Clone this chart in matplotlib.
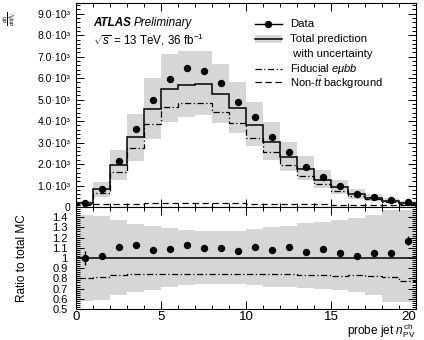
import numpy as np
import matplotlib.pyplot as plt
from matplotlib.lines import Line2D
from matplotlib.patches import Rectangle
from matplotlib.ticker import MultipleLocator, FuncFormatter

plt.rcParams["font.family"] = ["Liberation Sans", "DejaVu Sans"]
plt.rcParams["mathtext.fontset"] = "custom"
plt.rcParams["mathtext.rm"] = "Liberation Sans"
plt.rcParams["mathtext.it"] = "Liberation Sans:italic"

W, H = 424, 340

# bins of probe jet n_PV^ch
edges = np.arange(0, 21)
centers = edges[:-1] + 0.5

data = [205, 840, 2140, 3650, 4960, 5980, 6480, 6330, 5790, 4900,
        4200, 3260, 2550, 1880, 1380, 960, 610, 450, 320, 235]
total = [200, 820, 1940, 3250, 4560, 5500, 5700, 5730, 5250, 4600,
         3820, 3040, 2320, 1760, 1260, 910, 590, 425, 300, 200]
fiducial = [160, 670, 1620, 2730, 3850, 4650, 4820, 4840, 4440, 3890,
            3230, 2550, 1950, 1460, 1050, 750, 490, 350, 245, 155]
non_tt = [110, 140, 150, 160, 170, 175, 180, 180, 175, 170,
          160, 150, 140, 130, 120, 110, 100, 95, 90, 85]

ratio = [1.00, 1.02, 1.11, 1.13, 1.08, 1.09, 1.13, 1.10, 1.10, 1.07,
         1.11, 1.08, 1.11, 1.06, 1.09, 1.05, 1.02, 1.05, 1.05, 1.17]
ratio_err = [0.07, 0.03, 0.01, 0.01, 0.01, 0.01, 0.01, 0.01, 0.01, 0.01,
             0.01, 0.01, 0.01, 0.01, 0.01, 0.015, 0.02, 0.02, 0.025, 0.045]

band_up = [1.42, 1.41, 1.375, 1.335, 1.315, 1.295, 1.275, 1.265, 1.265, 1.265,
           1.28, 1.30, 1.31, 1.34, 1.35, 1.37, 1.39, 1.42, 1.47, 1.47]
band_down = [0.58, 0.59, 0.64, 0.665, 0.69, 0.72, 0.735, 0.745, 0.745, 0.745,
             0.74, 0.72, 0.715, 0.705, 0.70, 0.69, 0.67, 0.64, 0.57, 0.57]

x_ticks = [0, 5, 10, 15, 20]

GREY = "#d6d6d6"
DASHDOT = (0, (5, 2, 1, 2))
DASHED = (0, (5, 3))

total = np.array(total, dtype=float)
fiducial = np.array(fiducial, dtype=float)
band_up = np.array(band_up)
band_down = np.array(band_down)


def fx(x):
    return x / W


def fy(y):
    return 1 - y / H


fig = plt.figure(figsize=(W / 100, H / 100), dpi=100)
ax1 = fig.add_axes([fx(76), fy(207), 340 / W, 204 / H])
ax2 = fig.add_axes([fx(76), fy(309), 340 / W, 102 / H])

# main panel
ax1.stairs(total * band_up, edges, baseline=total * band_down, fill=True,
           color=GREY, lw=0)
ax1.stairs(total, edges, color="black", lw=1.1)
ax1.stairs(fiducial, edges, color="black", lw=0.9, linestyle=DASHDOT)
ax1.stairs(non_tt, edges, color="black", lw=0.9, linestyle=DASHED)
ax1.plot(centers, data, "o", color="black", ms=4.3)

ax1.set_xlim(0, 20)
ax1.set_ylim(0, 9500)
ax1.yaxis.set_major_locator(MultipleLocator(1000))
ax1.yaxis.set_minor_locator(MultipleLocator(200))
ax1.yaxis.set_major_formatter(FuncFormatter(
    lambda v, p: "0" if v == 0 else f"{v / 1000:.1f}·10³"))

# ratio panel
ax2.stairs(band_up, edges, baseline=band_down, fill=True, color=GREY, lw=0)
ax2.axhline(1.0, color="black", lw=1.1)
ax2.stairs(fiducial / total, edges, color="black", lw=0.9, linestyle=DASHDOT)
ax2.errorbar(centers, ratio, yerr=ratio_err, fmt="o", color="black",
             ms=4.3, elinewidth=1.0, capsize=0)
ax2.set_xlim(0, 20)
ax2.set_ylim(0.5, 1.5)
ax2.yaxis.set_major_locator(MultipleLocator(0.1))
ax2.yaxis.set_minor_locator(MultipleLocator(0.02))
ax2.yaxis.set_major_formatter(FuncFormatter(
    lambda v, p: "" if v > 1.45 else ("1" if abs(v - 1) < 1e-6 else f"{v:.1f}")))

for ax in (ax1, ax2):
    ax.set_xticks(x_ticks)
    ax.xaxis.set_minor_locator(MultipleLocator(1))
    ax.tick_params(which="both", direction="in", top=True, right=True, width=0.7)
    ax.tick_params(which="major", length=6)
    ax.tick_params(which="minor", length=3)
    for s in ax.spines.values():
        s.set_linewidth(0.8)

ax1.set_xticklabels([])
ax2.set_xticklabels([str(t) for t in x_ticks])
ax2.get_xticklabels()[-1].set_horizontalalignment("right")
ax2.get_xticklabels()[-1].set_x(20.05)

ax1.tick_params(axis="y", labelsize=7.5, pad=4)
ax2.tick_params(axis="y", labelsize=8, pad=6)
ax2.tick_params(axis="x", labelsize=9.5, pad=1.5)

# axis titles
fig.text(fx(10), fy(19), r"$\frac{dn}{dn_{\rm PV}^{\rm ch}}$", rotation=90,
         fontsize=6, ha="center", va="center")
fig.text(fx(22), fy(258), "Ratio to total MC", rotation=90, fontsize=8.5,
         ha="center", va="center")
fig.text(fx(415), fy(331), r"probe jet $n_{\rm PV}^{\rm ch}$", fontsize=8.5,
         ha="right", va="center")

# ATLAS label
atlas = fig.text(fx(93), fy(23), "ATLAS", fontsize=8.4, fontweight="bold",
                 fontstyle="italic", va="center")
fig.canvas.draw()
bb = atlas.get_window_extent()
fig.text(bb.x1 / W + fx(3), fy(23), "Preliminary", fontsize=8.4,
         fontstyle="italic", va="center")
fig.text(fx(93), fy(40), r"$\sqrt{s}$ = 13 TeV, 36 fb$^{-1}$", fontsize=8.4,
         va="center")

# legend
lx0, lx1, tx = fx(255), fx(282), fx(290)
fig.add_artist(Line2D([lx0, lx1], [fy(24), fy(24)], color="black", lw=1.0,
                      transform=fig.transFigure))
fig.add_artist(Line2D([(lx0 + lx1) / 2], [fy(24)], marker="o", ms=4.3,
                      color="black", transform=fig.transFigure))
fig.text(tx, fy(24), "Data", fontsize=8.2, va="center")

fig.add_artist(Rectangle((lx0, fy(43)), lx1 - lx0, 8 / H, color=GREY,
                         lw=0, transform=fig.transFigure))
fig.add_artist(Line2D([lx0, lx1], [fy(38.5), fy(38.5)], color="black", lw=1.1,
                      transform=fig.transFigure))
fig.text(tx, fy(38.5), "Total prediction", fontsize=8.2, va="center")
fig.text(tx, fy(54), " with uncertainty", fontsize=8.2, va="center")

fig.add_artist(Line2D([lx0, lx1], [fy(68.5), fy(68.5)], color="black", lw=0.9,
                      linestyle=DASHDOT, transform=fig.transFigure))
fig.text(tx, fy(68.5), r"Fiducial $e\mu bb$", fontsize=8, va="center")

fig.add_artist(Line2D([lx0, lx1], [fy(82), fy(82)], color="black", lw=0.9,
                      linestyle=DASHED, transform=fig.transFigure))
fig.text(tx, fy(82.5), r"Non-$t\bar{t}$ background", fontsize=8, va="center")

fig.savefig("out.png", dpi=100)
